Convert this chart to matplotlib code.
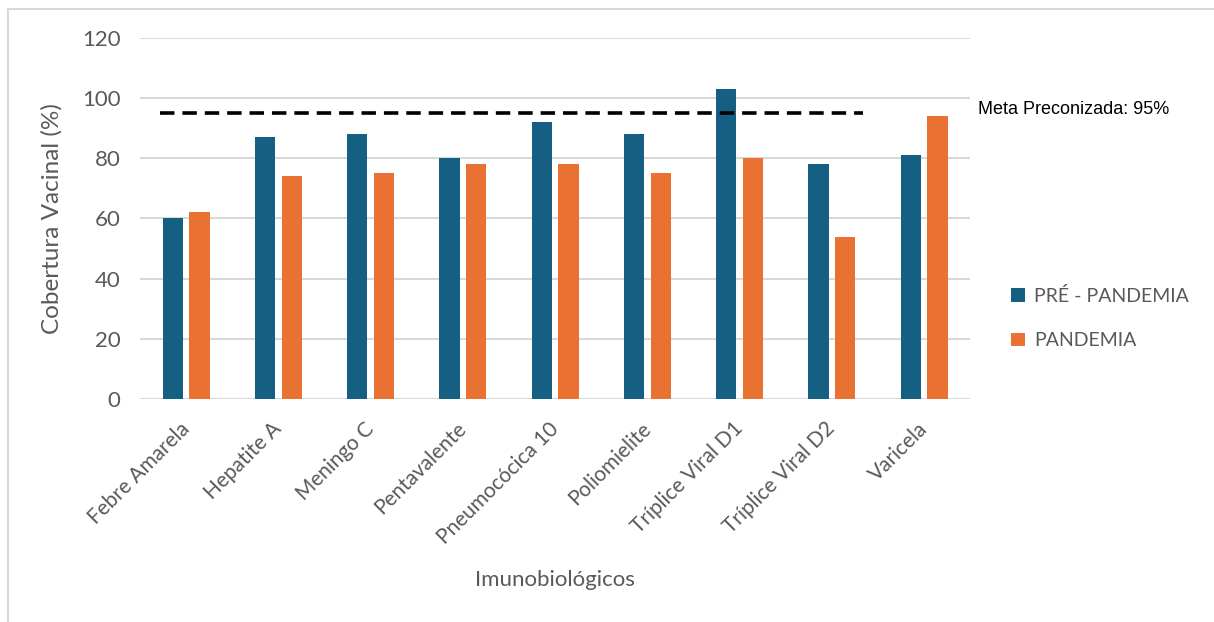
import numpy as np
import matplotlib.pyplot as plt
import matplotlib.transforms as mtransforms
from matplotlib.patches import Rectangle

# Cobertura vacinal por imunobiológico (%)
vacinas = ["Febre Amarela", "Hepatite A", "Meningo C", "Pentavalente", "Pneumocócica 10",
           "Poliomielite", "Tríplice Viral D1", "Tríplice Viral D2", "Varicela"]
pre_pandemia = [60, 87, 88, 80, 92, 88, 103, 78, 81]
pandemia = [62, 74, 75, 78, 78, 75, 80, 54, 94]
meta = 95

azul = "#156082"
laranja = "#E97132"
cinza = "#595959"

plt.rcParams['font.family'] = ['Lato', 'DejaVu Sans']

fig = plt.figure(figsize=(12.14, 6.22), dpi=100)
ax = fig.add_axes([0.1153, 0.3585, 0.684, 0.5805])

# Moldura do gráfico
fig.patches.append(Rectangle((0.0066, -0.05), 1.2, 1.036, transform=fig.transFigure,
                             fill=False, edgecolor="#d9d9d9", linewidth=1.5))

x = np.arange(len(vacinas))
larg = 0.22
ax.bar(x - 0.145, pre_pandemia, larg, color=azul, label="PRÉ - PANDEMIA", zorder=3)
ax.bar(x + 0.145, pandemia, larg, color=laranja, label="PANDEMIA", zorder=3)

# Linha da meta
ax.plot([-0.28, 7.34], [meta, meta], linestyle=(0, (4, 2.2)), color="black", linewidth=2.6, zorder=4)
ax.text(8.58, meta + 1.2, "Meta Preconizada: 95%", family="Liberation Sans", fontsize=13,
        color="black", va="center", ha="left")

ax.set_xlim(-0.5, len(vacinas) - 0.5)
ax.set_ylim(0, 120)
ax.set_yticks(np.arange(0, 121, 20))
ax.yaxis.grid(True, color="#d9d9d9", linewidth=1.5, zorder=0)
ax.set_axisbelow(True)
for s in ax.spines.values():
    s.set_visible(False)
ax.tick_params(axis="both", length=0, colors=cinza)
ax.tick_params(axis="y", labelsize=16, pad=14)
ax.set_xticks(x)
ax.set_xticklabels(vacinas, rotation=45, ha="right", rotation_mode="anchor", fontsize=15, color=cinza)
ax.tick_params(axis="x", pad=14)
# rótulos um pouco à esquerda, terminando junto ao centro de cada grupo
desloc = mtransforms.ScaledTranslation(-7 / 100, 0, fig.dpi_scale_trans)
for lbl in ax.get_xticklabels():
    lbl.set_transform(lbl.get_transform() + desloc)

ax.set_ylabel("Cobertura Vacinal (%)", fontsize=17.5, color=cinza, labelpad=14)
ax.set_xlabel("Imunobiológicos", fontsize=16, color=cinza, labelpad=16)

ax.legend(loc="center left", bbox_to_anchor=(1.028, 0.224), frameon=False, fontsize=14,
          labelcolor=cinza, handlelength=0.7, handleheight=0.7, handletextpad=0.5, labelspacing=1.4)

fig.savefig("out.png", dpi=100)
